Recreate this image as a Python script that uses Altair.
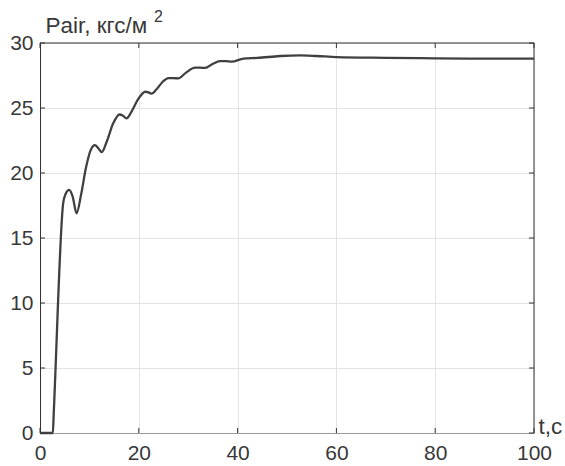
import altair as alt
import pandas as pd

# time, s
t = [0, 2.6, 2.8, 4.7, 5.2, 5.9, 6.6, 7.4, 8.3, 9.3, 10.3, 11.1, 11.8, 12.5, 13.5, 14.8,
     16.1, 16.8, 17.5, 18.5, 19.9, 21.3, 22.0, 22.6, 23.5, 24.8, 26.0, 27.0, 28.0,
     29.5, 31.4, 32.4, 33.4, 35.0, 36.4, 37.6, 38.8, 41.2, 44.0, 48.6, 52.6, 56.0,
     60.0, 70.0, 80.0, 90.0, 100.0]
# Pair, kgf/m^2
p = [0, 0, 1.7, 17.7, 18.4, 18.7, 18.2, 16.9, 18.3, 20.4, 21.8, 22.15, 21.9, 21.6, 22.4, 23.8,
     24.5, 24.4, 24.2, 24.7, 25.7, 26.25, 26.2, 26.1, 26.4, 27.0, 27.3, 27.3, 27.28,
     27.7, 28.1, 28.1, 28.08, 28.4, 28.6, 28.6, 28.56, 28.8, 28.85, 29.0, 29.05, 29.0,
     28.92, 28.86, 28.82, 28.8, 28.8]

x_ticks = [0, 20, 40, 60, 80, 100]
y_ticks = [0, 5, 10, 15, 20, 25, 30]

W, H = 494, 390
FONT = "Liberation Sans"
TXT = "#383838"
FS = 21
TFS = 22.5
DARK = "#333333"

df = pd.DataFrame({"t": t, "p": p})
xt = pd.DataFrame({"t": x_ticks})
yt = pd.DataFrame({"p": y_ticks})

xscale = alt.Scale(domain=[0, 100], nice=False)
yscale = alt.Scale(domain=[0, 30], nice=False)

line = alt.Chart(df).mark_line(color="#404040", strokeWidth=2.3, interpolate="monotone").encode(
    x=alt.X("t:Q", scale=xscale,
            axis=alt.Axis(values=x_ticks, grid=True, gridColor="#e3e3e3", ticks=False,
                          domain=True, domainColor="#9a9a9a", domainWidth=1,
                          labelFont=FONT, labelFontSize=FS, labelColor=TXT,
                          labelFlush=False, labelPadding=9, title="t,c", titleFont=FONT,
                          titleFontSize=TFS, titleFontWeight="normal", titleColor=TXT,
                          titleAngle=0, titleAlign="left", titleBaseline="alphabetic",
                          titleX=W + 4, titleY=0)),
    y=alt.Y("p:Q", scale=yscale,
            axis=alt.Axis(values=y_ticks, grid=True, gridColor="#e3e3e3", ticks=False,
                          domain=True, domainColor=DARK, domainWidth=1,
                          labelFont=FONT, labelFontSize=FS, labelColor=TXT,
                          labelFlush=False, labelPadding=7, title="Pair, кгс/м",
                          titleFont=FONT, titleFontSize=TFS, titleFontWeight="normal",
                          titleColor=TXT, titleAngle=0, titleAlign="left",
                          titleBaseline="alphabetic", titleX=5, titleY=-11)),
)

sup = alt.Chart(pd.DataFrame({"s": ["2"]})).mark_text(
    font=FONT, fontSize=16, color=TXT, align="left", baseline="alphabetic"
).encode(text="s:N", x=alt.value(114), y=alt.value(-21))

# top and right frame lines
frame_top = alt.Chart(pd.DataFrame({"k": [0]})).mark_rule(color=DARK, strokeWidth=1).encode(
    x=alt.value(0), x2=alt.value(W), y=alt.value(0))
frame_right = alt.Chart(pd.DataFrame({"k": [0]})).mark_rule(color=DARK, strokeWidth=1).encode(
    x=alt.value(W), y=alt.value(0), y2=alt.value(H))

tick_len = 5
xb = alt.Chart(xt).mark_rule(color=DARK, strokeWidth=1).encode(
    x=alt.X("t:Q", scale=xscale), y=alt.value(H), y2=alt.value(H - tick_len))
xtp = alt.Chart(xt).mark_rule(color=DARK, strokeWidth=1).encode(
    x=alt.X("t:Q", scale=xscale), y=alt.value(0), y2=alt.value(tick_len))
yl = alt.Chart(yt).mark_rule(color=DARK, strokeWidth=1).encode(
    y=alt.Y("p:Q", scale=yscale), x=alt.value(0), x2=alt.value(tick_len))
yr = alt.Chart(yt).mark_rule(color=DARK, strokeWidth=1).encode(
    y=alt.Y("p:Q", scale=yscale), x=alt.value(W), x2=alt.value(W - tick_len))

chart = alt.layer(frame_top, frame_right, xb, xtp, yl, yr, line, sup).properties(
    width=W, height=H,
    autosize=alt.AutoSizeParams(type="none"),
    padding={"left": 40, "top": 43, "right": 31, "bottom": 33},
    background="white",
).configure_view(strokeWidth=0)

chart.save("out.html", embed_options={"renderer": "svg", "actions": False})
